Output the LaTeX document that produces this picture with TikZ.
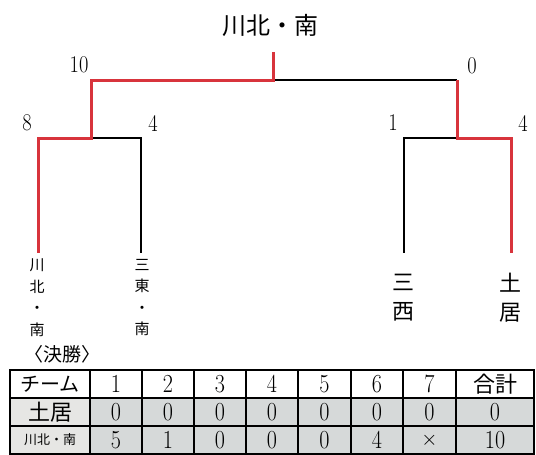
\documentclass[tikz,border=0pt]{standalone}
\usepackage{fontspec}
\newfontfamily\jp{Noto Sans CJK JP}
\definecolor{winred}{HTML}{D8343C}
\definecolor{cellgray}{HTML}{D6D9D9}
\definecolor{namegray}{HTML}{E6E6E4}
\newcommand\cond[1]{\scalebox{0.85}[1]{#1}}
\tikzset{
  winline/.style={draw=winred, line width=3pt, line join=miter},
  loseline/.style={draw=black, line width=1.3pt},
  score/.style={inner sep=0pt, font=\fontsize{24}{24}\selectfont},
  leafsmall/.style={inner sep=0pt, align=center, font=\jp\fontsize{15}{21.5}\selectfont},
  leafbig/.style={inner sep=0pt, align=center, font=\jp\fontsize{22}{29}\selectfont},
  cellnum/.style={inner sep=0pt, font=\fontsize{26}{26}\selectfont},
  celljp/.style={inner sep=0pt, font=\jp\fontsize{20}{20}\selectfont},
  grid/.style={draw=black, line width=1.2pt},
}
\begin{document}
\begin{tikzpicture}[x=1pt,y=-1pt]
\useasboundingbox (0,0) rectangle (536,455);
% title
\node[inner sep=0pt, font=\jp\fontsize{24}{24}\selectfont] (title) at (270,25) {川北・南};
% bracket coordinates
\coordinate (champ) at (273,52);
\coordinate (fmid) at (273,80);
\coordinate (fL) at (91,80);
\coordinate (fR) at (457,80);
\coordinate (sL) at (91,138);
\coordinate (sR) at (457,138);
\coordinate (l1) at (38,138);
\coordinate (l2) at (141,138);
\coordinate (l3) at (404,138);
\coordinate (l4) at (511,138);
\coordinate (e1) at (38,253);
\coordinate (e2) at (141,253);
\coordinate (e3) at (404,253);
\coordinate (e4) at (511,253);
% losing lines
\draw[loseline] (fmid) -- (fR);
\draw[loseline] (sL) -- (l2) -- (e2);
\draw[loseline] (sR) -- (l3) -- (e3);
% winning lines
\draw[winline] (champ) -- (fmid) -- (fL) -- (sL) -- (l1) -- (e1);
\draw[winline] (fR) -- (sR) -- (l4) -- (e4);
% scores
\node[score] (s10) at (79,65) {\cond{10}};
\node[score] (s0) at (472,66) {\cond{0}};
\node[score] (s8) at (27,123) {\cond{8}};
\node[score] (s4a) at (153,123) {\cond{4}};
\node[score] (s1) at (393,123) {\cond{1}};
\node[score] (s4b) at (523,123) {\cond{4}};
% leaf names
\node[leafsmall] (t1) at (37,297.5) {川\\北\\・\\南};
\node[leafsmall] (t2) at (142,297.5) {三\\東\\・\\南};
\node[leafbig] (t3) at (403,297.5) {三\\西};
\node[leafbig] (t4) at (510,297.5) {土\\居};
% final label
\node[inner sep=0pt, font=\jp\fontsize{19}{19}\selectfont] (final) at (62,354) {〈決勝〉};
% table fills
\fill[namegray] (10,398) rectangle (90,454);
\fill[cellgray] (90,398) rectangle (534,454);
% grid
\foreach \x in {90,142,194,246,298,351,403,456} \draw[grid] (\x,370) -- (\x,454);
\draw[grid] (10,398) -- (534,398);
\draw[grid] (10,426) -- (534,426);
\draw[draw=black, line width=1.6pt] (10,370) rectangle (534,454);
% header
\node[celljp] (h0) at (50,384) {チーム};
\foreach \x/\t [count=\i] in {116/1,168/2,220/3,272/4,324.5/5,377/6,429.5/7}
  \node[cellnum] (h\i) at (\x,384) {\cond{\t}};
\node[inner sep=0pt, font=\jp\fontsize{22}{22}\selectfont] (h8) at (495,384) {合計};
% row 1
\node[inner sep=0pt, font=\jp\fontsize{22}{22}\selectfont] (a0) at (50,412) {土居};
\foreach \x/\t [count=\i] in {116/0,168/0,220/0,272/0,324.5/0,377/0,429.5/0,495/0}
  \node[cellnum] (a\i) at (\x,412) {\cond{\t}};
% row 2
\node[inner sep=0pt, font=\jp\fontsize{13}{13}\selectfont] (b0) at (50,440) {川北・南};
\foreach \x/\t [count=\i] in {116/5,168/1,220/0,272/0,324.5/0,377/4,495/10}
  \node[cellnum] (b\i) at (\x,440) {\cond{\t}};
\node[inner sep=0pt, font=\fontsize{20}{20}\selectfont] (bx) at (429.5,440) {$\times$};
\end{tikzpicture}
\end{document}
